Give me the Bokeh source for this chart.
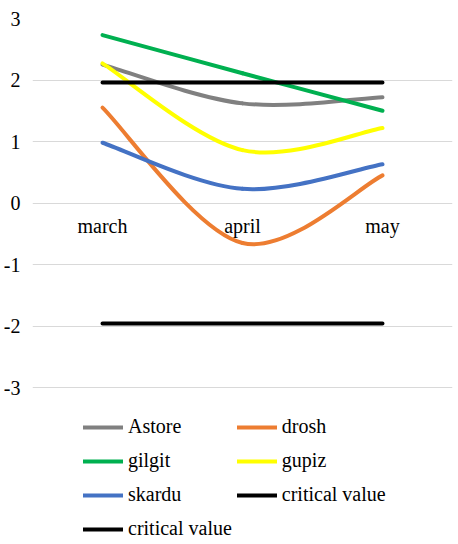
from bokeh.plotting import figure
from bokeh.models import (ColumnDataSource, Range1d, FixedTicker, Legend, LegendItem)
from bokeh.core.properties import value
from bokeh.embed import file_html
from bokeh.resources import INLINE

months = ["march", "april", "may"]
astore = [2.25, 1.62, 1.72]
drosh = [1.55, -0.65, 0.45]
gilgit = [2.73, 2.11, 1.50]
gupiz = [2.27, 0.86, 1.22]
skardu = [0.98, 0.23, 0.63]
crit_hi = [1.96, 1.96, 1.96]
crit_lo = [-1.96, -1.96, -1.96]
y_ticks = [-3, -2, -1, 0, 1, 2, 3]
y_tick_labels = ["-3", "-2", "-1", "0", "1", "2", "3"]

series = [
    ("Astore", astore, "#808080"),
    ("drosh", drosh, "#ED7D31"),
    ("gilgit", gilgit, "#00B050"),
    ("gupiz", gupiz, "#FFFF00"),
    ("skardu", skardu, "#4472C4"),
]

FONT = "Liberation Serif"
FS = "20px"

W, H = 458, 544
TOP = 18
PX_PER_UNIT = 61.5
y_bottom = 3 - (H - TOP) / PX_PER_UNIT

p = figure(width=W, height=H, output_backend="svg", toolbar_location=None,
           x_range=Range1d(-0.5, 2.5), y_range=Range1d(y_bottom, 3),
           x_axis_location=None,
           min_border_left=31, min_border_right=6, min_border_top=TOP,
           min_border_bottom=0)
p.outline_line_color = None
p.background_fill_color = "white"
p.border_fill_color = "white"

xs = list(range(len(months)))


def smooth_segments(vals):
    # Excel-like smoothed line: cubic Bezier segments (Catmull-Rom control points)
    n = len(vals)
    d = dict(x0=[], y0=[], x1=[], y1=[], cx0=[], cy0=[], cx1=[], cy1=[])
    for i in range(n - 1):
        im1 = max(i - 1, 0)
        ip2 = min(i + 2, n - 1)
        d["x0"].append(xs[i]); d["y0"].append(vals[i])
        d["x1"].append(xs[i + 1]); d["y1"].append(vals[i + 1])
        d["cx0"].append(xs[i] + (xs[i + 1] - xs[im1]) / 6)
        d["cy0"].append(vals[i] + (vals[i + 1] - vals[im1]) / 6)
        d["cx1"].append(xs[i + 1] - (xs[ip2] - xs[i]) / 6)
        d["cy1"].append(vals[i + 1] - (vals[ip2] - vals[i]) / 6)
    return ColumnDataSource(d)


items = []
for name, vals, color in series:
    r = p.bezier(x0="x0", y0="y0", x1="x1", y1="y1", cx0="cx0", cy0="cy0",
                 cx1="cx1", cy1="cy1", source=smooth_segments(vals),
                 line_color=color, line_width=4, line_cap="round")
    items.append(LegendItem(label=name, renderers=[r]))

for vals in (crit_hi, crit_lo):
    r = p.line(xs, vals, line_color="black", line_width=4, line_cap="round")
    items.append(LegendItem(label="critical value", renderers=[r]))

# category labels sit just under the zero line (category axis crosses at 0)
p.text(x=xs, y=[0] * len(months), text=months, text_align="center",
       text_baseline="middle", y_offset=23, text_font_size=FS,
       text_color="black", text_font=value(FONT))

# y axis
p.yaxis.ticker = FixedTicker(ticks=y_ticks)
p.yaxis.major_label_overrides = dict(zip(y_ticks, y_tick_labels))
p.yaxis.axis_line_color = None
p.yaxis.major_tick_line_color = None
p.yaxis.minor_tick_line_color = None
p.yaxis.major_label_standoff = 6
p.yaxis.major_label_text_font = FONT
p.yaxis.major_label_text_font_size = FS
p.yaxis.major_label_text_color = "black"

p.xgrid.visible = False
p.ygrid.ticker = FixedTicker(ticks=y_ticks)
p.ygrid.grid_line_color = "#D9D9D9"
p.ygrid.grid_line_width = 1

# legend (column-major order: two columns)
order = [0, 2, 4, 6, 1, 3, 5]
legend = Legend(items=[items[i] for i in order], orientation="vertical", nrows=4,
                location=(51, 1), label_text_font=FONT,
                label_text_font_size=FS,
                label_text_color="black",
                glyph_width=40, glyph_height=20, label_height=29, spacing=5,
                label_standoff=5, padding=0, margin=0, border_line_color=None,
                background_fill_alpha=0)
p.add_layout(legend, "center")

open("out.html", "w").write(file_html(p, INLINE))
